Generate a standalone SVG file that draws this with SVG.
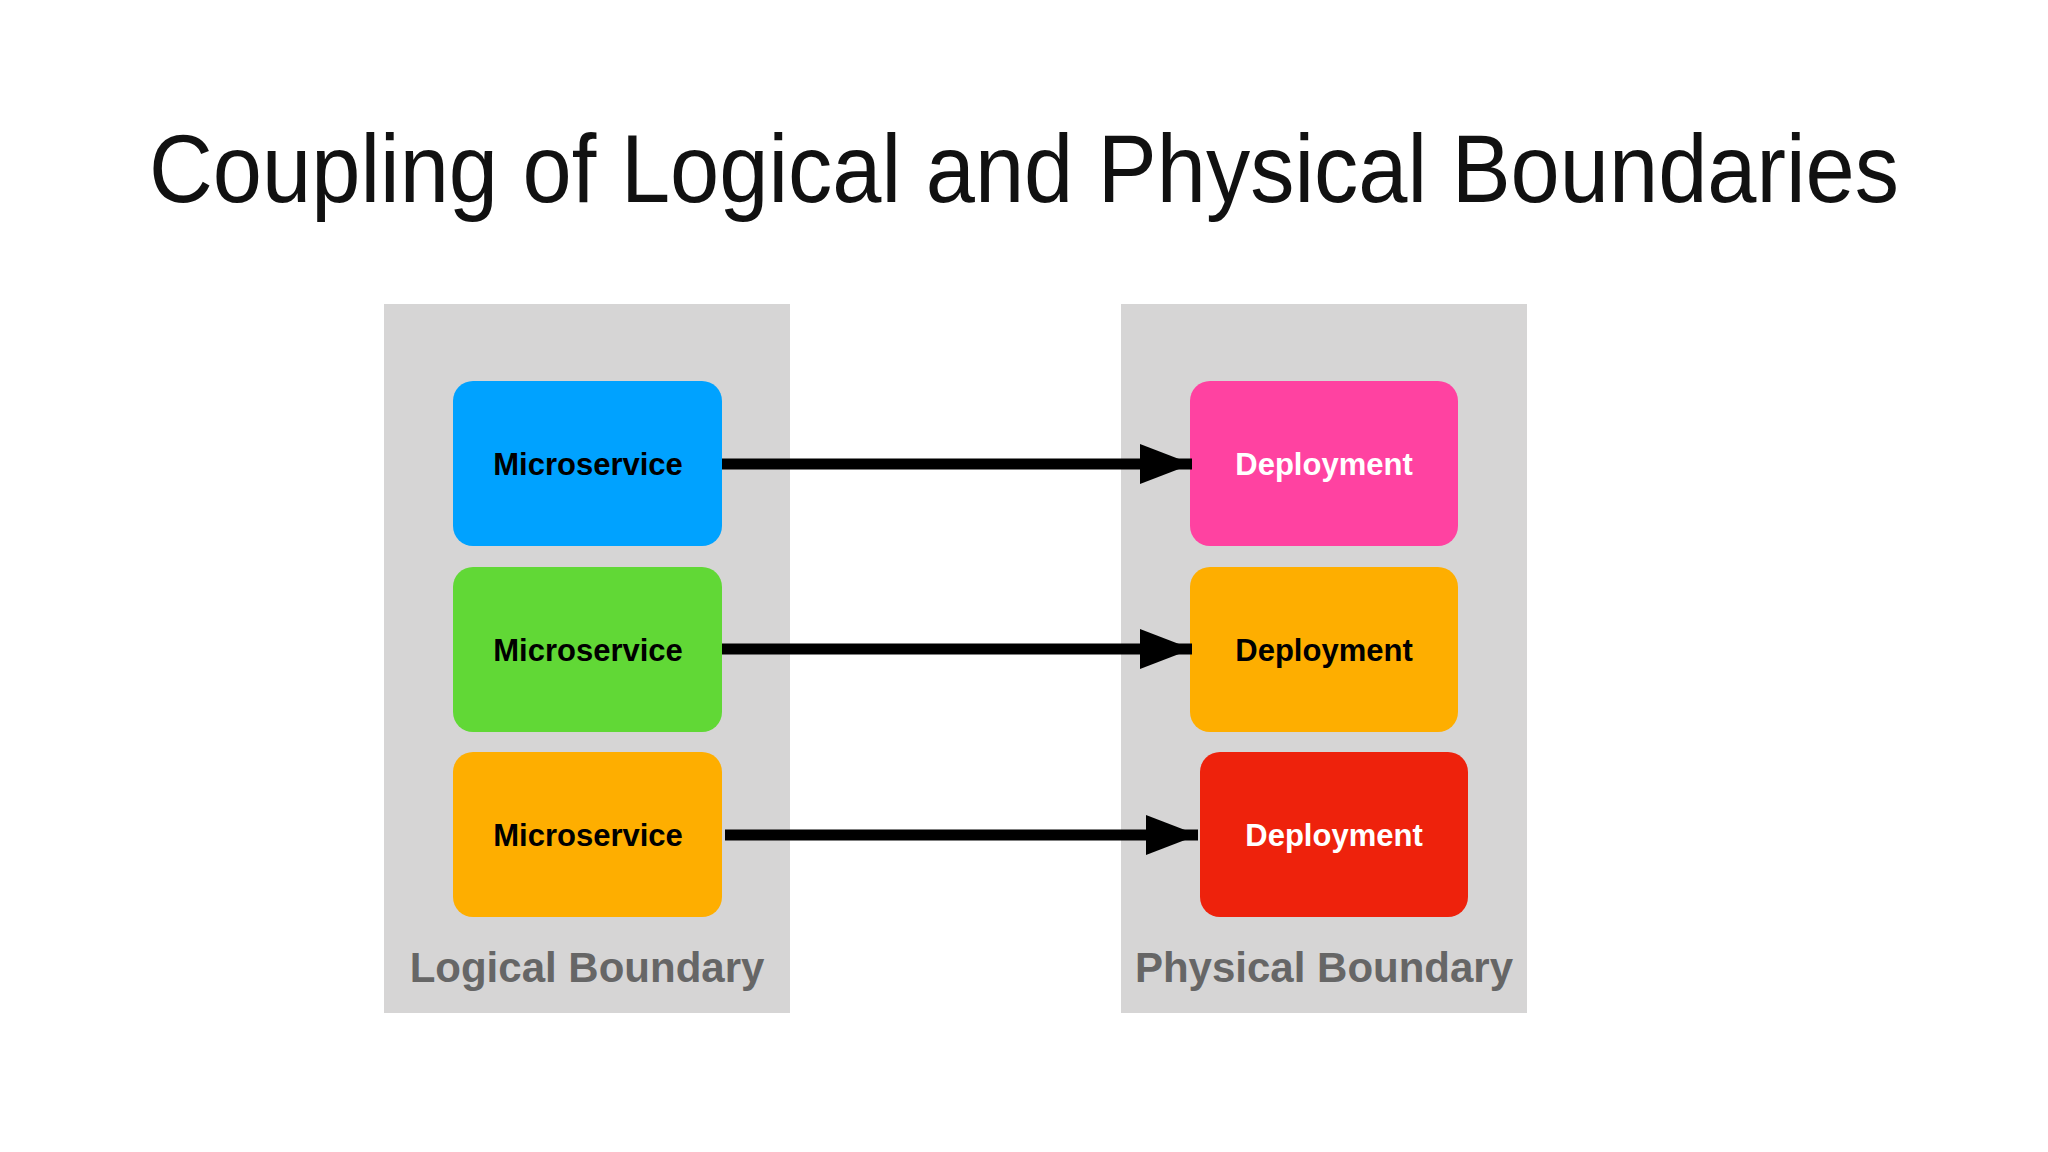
<svg xmlns="http://www.w3.org/2000/svg" width="2048" height="1152" viewBox="0 0 2048 1152">
<defs>
<style>
.panel{fill:#d6d5d5}
.box{stroke:none}
.lbl{font-family:"Liberation Sans",Arial,sans-serif;font-weight:bold;font-size:31px;text-anchor:middle}
.blbl{font-family:"Liberation Sans",Arial,sans-serif;font-weight:bold;font-size:42px;fill:#666;text-anchor:middle}
.conn{stroke:#000;stroke-width:11;fill:none}
</style>
<marker id="ah" markerUnits="userSpaceOnUse" markerWidth="54" markerHeight="40" refX="52" refY="20" orient="auto"><path d="M0,0 L52,20 L0,40 Z" fill="#000"/></marker>
</defs>
<rect width="2048" height="1152" fill="#fff"/>
<text x="1024" y="202" font-family="Liberation Sans,Arial,sans-serif" font-size="96" text-anchor="middle" textLength="1750" lengthAdjust="spacingAndGlyphs" fill="#111">Coupling of Logical and Physical Boundaries</text>
<g id="logical"><rect class="panel" x="384" y="304" width="406" height="709"/><text class="blbl" x="587" y="982">Logical Boundary</text></g>
<g id="physical"><rect class="panel" x="1121" y="304" width="406" height="709"/><text class="blbl" x="1324" y="982">Physical Boundary</text></g>
<g id="ms1"><rect class="box" x="453" y="381" width="269" height="165" rx="20" fill="#00a2ff"/><text class="lbl" x="588" y="475">Microservice</text></g>
<g id="ms2"><rect class="box" x="453" y="567" width="269" height="165" rx="20" fill="#61d836"/><text class="lbl" x="588" y="661">Microservice</text></g>
<g id="ms3"><rect class="box" x="453" y="752" width="269" height="165" rx="20" fill="#feae00"/><text class="lbl" x="588" y="846">Microservice</text></g>
<g id="dep1"><rect class="box" x="1190" y="381" width="268" height="165" rx="20" fill="#ff42a1"/><text class="lbl" x="1324" y="475" fill="#fff">Deployment</text></g>
<g id="dep2"><rect class="box" x="1190" y="567" width="268" height="165" rx="20" fill="#feae00"/><text class="lbl" x="1324" y="661">Deployment</text></g>
<g id="dep3"><rect class="box" x="1200" y="752" width="268" height="165" rx="20" fill="#ee220c"/><text class="lbl" x="1334" y="846" fill="#fff">Deployment</text></g>
<g id="connectors">
<line class="conn" x1="722" y1="464" x2="1192" y2="464" marker-end="url(#ah)"/>
<line class="conn" x1="722" y1="649" x2="1192" y2="649" marker-end="url(#ah)"/>
<line class="conn" x1="725" y1="835" x2="1198" y2="835" marker-end="url(#ah)"/>
</g>
</svg>
